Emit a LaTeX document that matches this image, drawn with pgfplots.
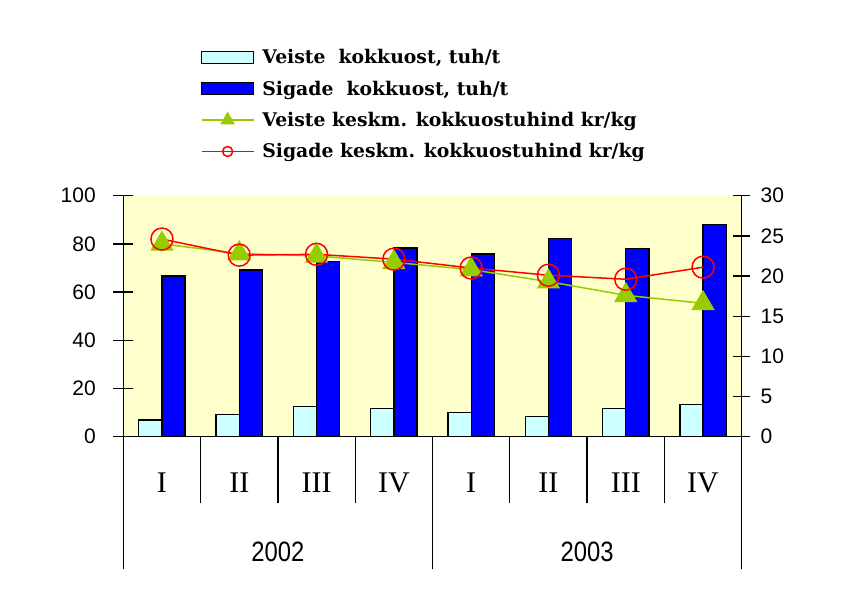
\documentclass[border=0pt]{standalone}
\usepackage{pgfplots}
\pgfplotsset{compat=1.18}
\usepackage{fontspec}
\setmainfont{Liberation Serif}
\newfontfamily\numfont{Liberation Sans}
\newfontfamily\yearfont[FakeStretch=0.85]{Liberation Sans}
\newfontfamily\legfont{DejaVu Serif}
\definecolor{bgyellow}{HTML}{FFFFCC}
\definecolor{lblue}{HTML}{CCFFFF}
\definecolor{dblue}{HTML}{0000FF}
\definecolor{lgreen}{HTML}{99CC00}
\definecolor{lred}{HTML}{FF0000}
\pgfplotsset{
  common/.style={at={(123.3bp,163.3bp)}, anchor=south west, scale only axis,
    width=618.4bp, height=241bp, xmin=-0.5, xmax=7.5,
    axis line style={-, line width=1.3bp, black},
    every tick/.style={black, line width=1.3bp},
    /pgf/number format/assume math mode=true, clip=false},
  barleg/.style={legend image code/.code={\draw[##1] (0bp,-6bp) rectangle (52bp,6bp);}},
  lineleg/.style={legend image code/.code={\draw[mark repeat=2, mark phase=2, ##1] plot coordinates {(0bp,0bp) (26bp,0bp) (52bp,0bp)};}},
}
\begin{document}
\begin{tikzpicture}[x=1bp,y=1bp]
\path[use as bounding box] (0,0) rectangle (858,600);
% Axis A: bars, left y axis
\begin{axis}[common, ymin=0, ymax=100,
  axis x line*=bottom, axis y line*=left,
  axis background/.style={fill=bgyellow},
  ytick={0,20,...,100}, tick align=center, major tick length=20bp,
  yticklabel style={font=\numfont\fontsize{21bp}{21bp}\selectfont, anchor=east, xshift=-14bp},
  xtick={0,...,7}, xticklabels={I,II,III,IV,I,II,III,IV},
  xtick style={draw=none},
  xticklabel style={font=\fontsize{30bp}{30bp}\selectfont, anchor=center, yshift=-36.3bp},
]
\addplot[ybar, bar width=0.3, bar shift=-0.15, fill=lblue, draw=black, line width=1.3bp]
  coordinates {(0,6.9) (1,9.3) (2,12.4) (3,11.8) (4,10.1) (5,8.3) (6,11.6) (7,13.4)};
\addplot[ybar, bar width=0.3, bar shift=0.15, fill=dblue, draw=black, line width=1.3bp]
  coordinates {(0,66.7) (1,69.2) (2,72.6) (3,78.3) (4,75.8) (5,82.3) (6,78.2) (7,88.1)};
\end{axis}
% Axis C: category separators and year labels
\begin{axis}[common, ymin=0, ymax=1, hide y axis, axis x line*=bottom,
  xtick={-0.5,3.5,7.5}, xticklabels={}, major tick length=132.6bp, tick align=outside,
  minor xtick={0.5,1.5,2.5,4.5,5.5,6.5}, minor tick length=66.6bp]
\node[font=\yearfont\fontsize{28bp}{28bp}\selectfont] at (axis cs:1.5,0) [yshift=-115.3bp] {2002};
\node[font=\yearfont\fontsize{28bp}{28bp}\selectfont] at (axis cs:5.5,0) [yshift=-115.3bp] {2003};
\end{axis}
% Axis B: lines, right y axis, legend
\begin{axis}[common, ymin=0, ymax=30,
  axis y line*=right, axis x line=none,
  ytick={0,5,...,30}, tick align=center, major tick length=17bp,
  yticklabel style={font=\numfont\fontsize{21bp}{21bp}\selectfont, anchor=west, xshift=7bp},
  legend cell align=left,
  legend style={at={(0.1203,1.624)}, anchor=north west, draw=none, fill=none,
    font=\legfont\bfseries\fontsize{18.8bp}{20bp}\selectfont, row sep=11.6bp,
    /tikz/every odd column/.append style={column sep=6bp}},
]
\addlegendimage{barleg, fill=lblue, draw=black, line width=1.3bp}
\addlegendentry{Veiste\ \ kokkuost, tuh/t}
\addlegendimage{barleg, fill=dblue, draw=black, line width=1.3bp}
\addlegendentry{Sigade\ \ kokkuost, tuh/t}
\addlegendimage{lineleg, lgreen, line width=1.5bp, mark=triangle*, mark size=7bp}
\addlegendentry{Veiste keskm. kokkuostuhind kr/kg}
\addlegendimage{lineleg, lred, line width=1.5bp, mark=o, mark size=5bp}
\addlegendentry{Sigade keskm. kokkuostuhind kr/kg}
\addplot[forget plot, lgreen, line width=1.5bp, mark=triangle*, mark size=12bp]
  coordinates {(0,24.0) (1,22.8) (2,22.5) (3,21.7) (4,20.8) (5,19.3) (6,17.6) (7,16.6)};
\addplot[forget plot, lred, line width=1.5bp, mark=o, mark size=11bp]
  coordinates {(0,24.6) (1,22.6) (2,22.7) (3,22.1) (4,21.0) (5,20.1) (6,19.6) (7,21.1)};
\end{axis}
\end{tikzpicture}
\end{document}
